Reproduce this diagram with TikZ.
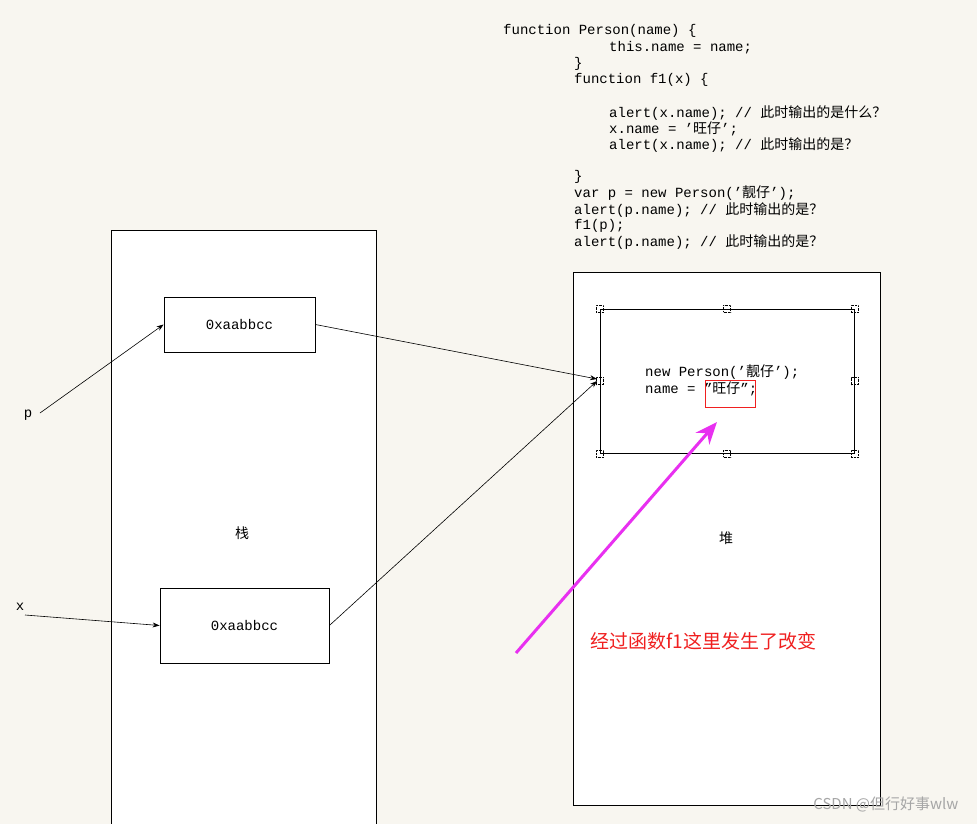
\documentclass[tikz,border=0pt]{standalone}
\usepackage{fontspec}
\setmainfont{Liberation Mono}
\newfontfamily\cjk{Noto Sans CJK SC}
\newcommand{\cj}[1]{{\cjk #1}}
\usetikzlibrary{arrows.meta}
\definecolor{bg}{HTML}{F8F6F0}
\definecolor{mag}{HTML}{E830F0}
\definecolor{rd}{HTML}{F02020}
\begin{document}
\begin{tikzpicture}[x=1pt,y=-1pt,
  code/.style={anchor=west,inner sep=0pt,font=\fontsize{14}{16}\selectfont},
  box/.style={draw,fill=white,line width=0.8pt},
  arr/.style={-{Stealth[length=7pt,width=5pt]},line width=0.6pt},
  hnd/.style={draw,densely dotted,line width=0.4pt,minimum size=7pt,inner sep=0pt}]
\fill[bg] (0,0) rectangle (977,824);
\useasboundingbox (0,0) rectangle (977,824);
% stack and heap
\draw[box] (111,230) rectangle (376,830);
\draw[box] (573,272) rectangle (880,805);
\node[font=\cjk\fontsize{14}{16}\selectfont] (stk) at (242,533) {栈};
\node[font=\cjk\fontsize{14}{16}\selectfont] (heap) at (726,538) {堆};
% stack boxes
\node[box,minimum width=151pt,minimum height=55pt,font=\fontsize{14}{16}\selectfont] (b1) at (239.5,324.5) {0xaabbcc};
\node[box,minimum width=169pt,minimum height=75pt,font=\fontsize{14}{16}\selectfont] (b2) at (244.5,625.5) {0xaabbcc};
% heap object
\node[draw,line width=0.8pt,minimum width=254pt,minimum height=144pt] (obj) at (727,381) {};
\foreach \a in {north west,north,north east,east,south east,south,south west,west}
  \node[hnd] at (obj.\a) {};
\node[code] (l1) at (645,372) {new Person('\cj{靓仔}');};
\node[code] (l2) at (645,389) {name = "\cj{旺仔}";};
\node[draw=rd,line width=0.9pt,minimum width=50pt,minimum height=27pt,inner sep=0pt] (rb) at (730,393.5) {};
% labels
\node[font=\fontsize{14}{16}\selectfont] (p) at (28,415) {p};
\node[font=\fontsize{14}{16}\selectfont] (x) at (20,607) {x};
\coordinate (pe) at (40,413);
\coordinate (xe) at (25,615);
\coordinate (t1) at (597,379);
\coordinate (t2) at (597,381);
\draw[arr] (pe) -- (b1.west);
\draw[arr] (xe) -- (b2.west);
\draw[arr] (b1.east) -- (t1);
\draw[arr] (b2.east) -- (t2);
% magenta arrow
\coordinate (ms) at (516,653);
\coordinate (me) at (717,422);
\draw[-{Stealth[length=22pt,width=18pt]},line width=3pt,mag] (ms) -- (me);
\node[anchor=west,text=rd,font=\cjk\fontsize{19}{21}\selectfont] (note) at (587,641) {经过函数f1这里发生了改变};
% code
\node[code] at (503,31) {function Person(name) \{};
\node[code] at (609,48) {this.name = name;};
\node[code] at (574,64) {\}};
\node[code] at (574,80) {function f1(x) \{};
\node[code] at (609,113) {alert(x.name); // \cj{此时输出的是什么？}};
\node[code] at (609,129) {x.name = '\cj{旺仔}';};
\node[code] at (609,145) {alert(x.name); // \cj{此时输出的是？}};
\node[code] at (574,177) {\}};
\node[code] at (574,193) {var p = new Person('\cj{靓仔}');};
\node[code] at (574,210) {alert(p.name); // \cj{此时输出的是？}};
\node[code] at (574,226) {f1(p);};
\node[code] at (574,242) {alert(p.name); //  \cj{此时输出的是？}};
\node[anchor=east,text=gray!70,font=\cjk\fontsize{15}{17}\selectfont] (wm) at (962,804) {CSDN @但行好事wlw};
\end{tikzpicture}
\end{document}
